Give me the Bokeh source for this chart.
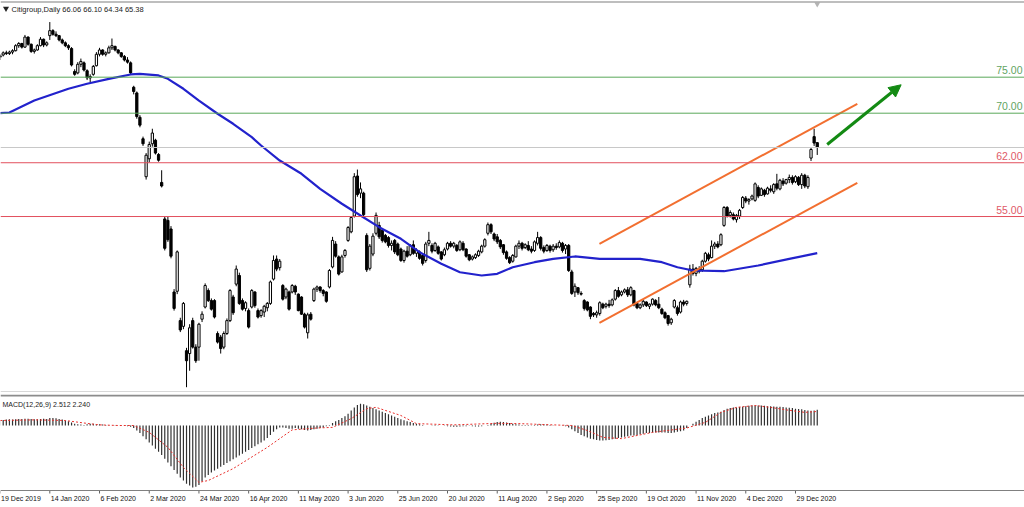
from bokeh.plotting import figure
from bokeh.layouts import column
from bokeh.models import Range1d, Span, Arrow, NormalHead, ColumnDataSource
from bokeh.core.properties import value
from bokeh.embed import file_html
from bokeh.resources import INLINE

SYMBOL = "Citigroup,Daily"

OPEN = [78.0, 78.3, 78.6, 78.5, 78.7, 78.9, 79.6, 79.9, 79.4, 80.8,
        79.8, 78.8, 79.0, 79.6, 80.5, 79.7, 81.0, 81.7, 81.2, 81.0,
        80.4, 80.0, 79.6, 79.2, 76.0, 75.8, 77.0, 77.2, 76.1, 75.1,
        75.6, 76.8, 78.4, 79.0, 78.4, 78.6, 79.3, 79.5, 79.0, 78.6,
        78.1, 77.6, 77.2, 73.8, 73.0, 69.6, 66.6, 61.3, 63.8, 65.9,
        66.4, 64.4, 60.5, 55.4, 55.2, 54.0, 45.2, 45.3, 41.2, 40.4,
        37.0, 36.6, 41.2, 37.5, 37.5, 41.4, 43.1, 45.4, 44.0, 44.0,
        39.4, 38.9, 37.5, 39.4, 41.2, 44.5, 46.3, 47.5, 44.0, 42.9,
        42.6, 43.1, 45.2, 42.6, 41.9, 42.4, 43.0, 43.6, 47.0, 49.8,
        48.6, 46.1, 44.5, 45.2, 45.2, 46.0, 44.9, 44.5, 42.1, 39.5,
        42.1, 44.0, 45.6, 45.9, 45.4, 45.2, 45.9, 48.7, 51.9, 50.1,
        48.0, 50.3, 52.4, 53.6, 55.8, 61.4, 59.0, 59.0, 53.1, 48.5,
        50.5, 53.4, 54.5, 53.8, 53.1, 52.8, 51.7, 52.4, 51.9, 51.2,
        49.6, 50.9, 50.4, 51.8, 50.6, 50.8, 50.3, 49.6, 52.0, 51.7,
        51.0, 51.5, 50.8, 50.4, 51.2, 52.0, 51.6, 51.7, 51.1, 52.0,
        51.2, 50.4, 49.8, 50.0, 50.3, 50.8, 51.6, 53.4, 54.6, 53.3,
        52.9, 52.4, 51.8, 50.8, 50.0, 49.5, 50.1, 51.6, 52.0, 51.4,
        51.7, 51.2, 51.0, 52.0, 52.8, 51.4, 51.0, 51.6, 51.1, 51.6,
        51.5, 52.0, 51.2, 51.7, 48.0, 45.2, 45.8, 45.0, 44.0, 43.8,
        43.1, 42.2, 42.0, 42.2, 43.5, 43.2, 43.5, 43.4, 44.2, 45.4,
        44.8, 45.2, 45.5, 44.8, 45.4, 43.6, 43.0, 43.4, 43.8, 43.2,
        43.5, 44.0, 43.5, 42.8, 42.3, 41.9, 40.9, 43.1, 43.0, 42.4,
        43.8, 43.6, 46.2, 48.4, 47.8, 48.4, 48.3, 49.5, 50.4, 50.0,
        51.6, 51.9, 51.8, 54.5, 57.0, 55.9, 56.0, 55.3, 55.8, 57.0,
        58.3, 57.9, 58.2, 58.0, 59.8, 58.7, 59.4, 58.9, 59.6, 59.2,
        60.3, 59.6, 60.7, 60.4, 60.9, 61.2, 60.6, 61.2, 60.2, 61.5,
        59.9, 63.9, 66.9, 66.06]

HIGH = [78.4, 78.8, 78.9, 78.9, 79.1, 79.8, 80.1, 80.0, 81.1, 80.9,
        79.9, 79.2, 79.8, 80.8, 80.6, 80.2, 82.9, 81.9, 81.6, 81.1,
        80.6, 80.2, 79.8, 79.4, 76.3, 77.3, 77.8, 77.4, 76.3, 75.6,
        76.9, 78.7, 79.3, 79.1, 78.8, 79.6, 80.6, 79.6, 79.1, 78.7,
        78.3, 78.0, 77.4, 74.0, 73.2, 69.9, 66.9, 64.6, 66.2, 68.0,
        66.6, 64.6, 62.2, 55.8, 55.7, 54.4, 45.6, 51.0, 41.6, 43.8,
        37.4, 40.7, 41.6, 37.9, 40.9, 42.5, 46.4, 45.7, 44.3, 44.2,
        39.7, 39.2, 39.7, 41.5, 45.6, 44.8, 48.9, 47.9, 44.3, 43.9,
        42.9, 45.6, 45.3, 42.9, 42.8, 43.4, 43.8, 46.8, 50.3, 50.3,
        49.8, 46.3, 45.8, 45.4, 46.3, 46.2, 45.0, 44.6, 42.3, 42.3,
        42.4, 45.8, 46.1, 46.0, 45.6, 45.3, 48.4, 52.9, 52.3, 50.3,
        50.4, 51.2, 54.4, 55.8, 61.8, 62.3, 60.5, 59.2, 53.4, 51.9,
        53.4, 56.3, 55.0, 54.0, 53.3, 53.0, 52.4, 52.6, 52.1, 51.4,
        51.1, 51.6, 51.9, 52.4, 51.3, 51.0, 50.5, 52.2, 53.6, 52.0,
        52.2, 51.7, 50.9, 51.4, 52.2, 52.3, 52.2, 51.9, 52.4, 52.3,
        51.3, 50.5, 50.3, 50.6, 51.1, 51.8, 52.7, 54.9, 54.8, 53.5,
        53.3, 52.6, 51.9, 51.0, 50.2, 50.5, 51.8, 52.4, 52.2, 52.0,
        52.3, 51.6, 52.4, 53.6, 53.0, 51.7, 51.9, 51.8, 51.9, 52.0,
        52.4, 52.2, 51.9, 51.9, 48.3, 46.4, 45.9, 45.3, 44.2, 43.9,
        43.2, 42.4, 42.6, 43.9, 43.7, 43.7, 44.1, 44.3, 45.6, 45.9,
        45.4, 45.7, 45.9, 46.0, 45.5, 43.8, 43.6, 44.1, 43.9, 43.6,
        44.3, 44.2, 44.5, 43.0, 42.5, 42.0, 41.6, 44.2, 43.3, 44.0,
        44.1, 44.0, 49.0, 49.1, 48.7, 48.8, 49.7, 50.8, 50.7, 52.4,
        52.2, 52.3, 53.4, 57.2, 57.2, 56.6, 56.3, 56.1, 56.8, 58.6,
        58.6, 58.3, 58.8, 60.5, 60.1, 59.8, 59.6, 59.9, 60.1, 60.4,
        61.7, 61.0, 61.1, 61.0, 61.6, 61.5, 61.5, 61.4, 61.8, 61.7,
        61.5, 65.4, 68.0, 66.10]

LOW = [77.6, 78.1, 78.3, 78.3, 78.4, 78.8, 79.3, 79.2, 79.3, 79.6,
       78.6, 78.5, 78.9, 79.5, 79.4, 79.5, 80.4, 81.0, 80.8, 80.2,
       79.8, 79.4, 79.0, 76.7, 75.4, 75.6, 76.6, 76.0, 74.8, 74.5,
       75.4, 76.7, 78.1, 78.2, 78.1, 78.5, 79.0, 78.8, 78.4, 77.9,
       77.4, 77.1, 75.5, 72.8, 69.4, 68.2, 65.6, 60.9, 63.3, 65.5,
       64.4, 63.4, 59.8, 51.0, 52.2, 49.9, 42.6, 44.9, 39.6, 40.0,
       31.9, 34.2, 37.3, 35.3, 35.6, 41.0, 42.9, 43.8, 42.6, 41.5,
       38.0, 36.6, 37.2, 39.2, 41.0, 42.0, 46.0, 43.4, 42.6, 42.5,
       40.1, 42.9, 43.0, 41.5, 41.6, 41.7, 42.5, 43.4, 46.8, 48.1,
       48.2, 44.0, 44.2, 42.6, 45.0, 44.8, 42.5, 42.0, 40.1, 38.7,
       41.2, 43.8, 45.2, 45.1, 44.6, 43.7, 45.7, 48.5, 50.0, 47.5,
       47.9, 50.0, 52.2, 53.4, 55.6, 58.5, 58.3, 55.7, 48.0, 48.2,
       50.2, 53.1, 52.6, 52.1, 52.0, 51.4, 51.0, 50.5, 50.2, 49.4,
       49.3, 50.0, 50.2, 50.4, 50.1, 49.7, 48.9, 49.3, 51.6, 50.6,
       50.8, 50.4, 49.6, 50.2, 51.0, 51.4, 51.3, 50.8, 50.9, 50.9,
       50.0, 49.5, 49.6, 49.8, 50.1, 50.6, 51.4, 53.1, 53.3, 52.3,
       51.9, 51.2, 50.4, 49.7, 49.1, 49.3, 50.0, 51.2, 51.0, 51.2,
       50.9, 50.6, 50.8, 51.7, 51.0, 50.6, 50.8, 50.7, 50.8, 51.1,
       51.3, 50.7, 50.5, 48.0, 44.8, 44.5, 44.8, 44.7, 42.6, 42.5,
       41.4, 41.7, 41.6, 41.9, 42.8, 42.9, 43.0, 43.2, 44.0, 44.4,
       44.6, 45.0, 44.5, 44.6, 43.2, 42.8, 42.8, 43.1, 43.1, 42.8,
       43.3, 43.2, 42.8, 42.0, 41.4, 40.5, 40.6, 42.9, 41.9, 42.2,
       43.2, 43.3, 45.8, 47.5, 47.4, 47.8, 48.0, 49.3, 49.5, 49.9,
       51.2, 51.3, 51.6, 54.3, 55.6, 55.6, 55.2, 54.9, 55.4, 56.8,
       57.6, 57.4, 58.0, 57.8, 58.3, 58.6, 58.5, 58.8, 59.1, 58.9,
       59.4, 59.4, 60.0, 60.2, 60.4, 60.2, 60.4, 60.0, 59.6, 59.7,
       59.6, 63.5, 65.6, 64.34]

CLOSE = [78.2, 78.6, 78.5, 78.7, 78.9, 79.6, 79.9, 79.4, 80.8, 79.8,
         78.8, 79.0, 79.6, 80.5, 79.7, 80.0, 81.7, 81.2, 81.0, 80.4,
         80.0, 79.6, 79.3, 76.9, 75.6, 77.0, 77.4, 76.2, 75.1, 75.3,
         76.7, 78.4, 79.0, 78.4, 78.6, 79.3, 79.6, 79.0, 78.6, 78.1,
         77.6, 77.3, 75.8, 73.2, 69.7, 68.5, 65.9, 64.3, 65.8, 67.4,
         64.6, 63.6, 60.0, 51.3, 52.5, 50.2, 42.9, 50.8, 39.9, 43.6,
         35.6, 40.2, 37.5, 35.6, 40.7, 42.1, 46.1, 44.0, 42.8, 41.7,
         38.2, 37.3, 39.4, 41.2, 45.4, 42.3, 48.4, 43.6, 42.8, 43.7,
         40.3, 45.4, 43.3, 41.7, 42.6, 43.2, 43.6, 46.6, 49.6, 48.4,
         49.5, 44.2, 45.6, 42.8, 46.1, 45.2, 42.6, 42.1, 40.3, 42.0,
         41.4, 45.6, 45.9, 45.4, 45.0, 43.9, 48.2, 52.4, 50.2, 47.7,
         50.1, 51.0, 54.2, 55.6, 61.3, 58.8, 59.6, 56.0, 48.3, 51.6,
         53.0, 55.9, 52.9, 52.4, 52.2, 51.7, 52.0, 50.8, 50.4, 49.6,
         50.9, 50.2, 51.7, 50.6, 51.0, 49.9, 49.2, 51.9, 52.4, 50.9,
         52.0, 50.6, 49.8, 51.1, 52.0, 51.6, 52.0, 51.0, 52.2, 51.1,
         50.2, 49.7, 50.1, 50.4, 50.9, 51.6, 52.5, 54.6, 53.6, 52.6,
         52.2, 51.5, 50.7, 49.9, 49.3, 50.3, 51.6, 52.0, 51.3, 51.8,
         51.1, 50.9, 52.2, 52.8, 51.3, 50.9, 51.7, 51.0, 51.6, 51.4,
         52.1, 51.0, 51.7, 48.2, 45.0, 46.0, 45.1, 44.9, 42.9, 42.7,
         41.8, 42.0, 42.3, 43.7, 43.0, 43.5, 43.3, 44.1, 45.4, 44.6,
         45.2, 45.5, 44.8, 45.8, 43.4, 43.0, 43.4, 43.9, 43.3, 43.5,
         44.2, 43.4, 43.0, 42.2, 41.6, 40.8, 41.4, 44.0, 42.2, 43.8,
         43.5, 43.9, 48.4, 47.8, 48.5, 48.1, 49.5, 50.6, 49.8, 51.6,
         51.9, 51.5, 53.2, 57.0, 55.8, 56.3, 55.4, 55.9, 56.6, 58.4,
         57.9, 58.1, 58.6, 60.3, 58.6, 59.6, 58.8, 59.7, 59.4, 60.2,
         59.7, 60.8, 60.3, 60.9, 61.2, 60.5, 61.3, 60.2, 61.5, 60.0,
         61.2, 65.1, 66.0, 65.38]

# moving average (blue line) read at these bars
MA_IDX = [0, 3, 11, 22, 28, 35, 42, 45, 51, 54,
          59, 64, 70, 75, 81, 84, 90, 97, 103, 110,
          116, 122, 129, 135, 142, 148, 155, 160, 165, 172,
          178, 185, 193, 206, 213, 218, 223, 233, 244, 254, 263]
MA_VAL = [70.17, 70.27, 71.94, 73.58, 74.28, 74.97, 75.58, 75.67, 75.44, 74.97,
          73.58, 71.94, 70.09, 68.69, 66.82, 65.66, 63.56, 61.71, 59.61, 57.52,
          55.88, 54.25, 52.63, 50.76, 49.14, 47.96, 47.5, 47.74, 48.66, 49.36,
          49.83, 50.16, 49.83, 49.83, 49.36, 48.66, 48.2, 48.1, 48.9, 49.83, 50.62]

# MACD(12,26,9) main values (histogram), one per bar
MACD = [0.85, 0.9, 0.95, 1.0, 0.95, 1.0, 1.05,
        1.05, 1.1, 1.1, 1.05, 1.0, 1.0, 1.05, 1.1, 1.05,
        1.2, 1.2, 1.15, 1.05, 0.95,
        0.8, 0.7, 0.5, 0.3, 0.2,
        0.15, 0.1, 0.2, 0.3, 0.3, 0.25,
        0.2, 0.15, 0.1, 0.05, 0.0, -0.05, 0.0, 0.05, 0.0, -0.1, -0.2, -0.4,
        -0.8, -1.2, -1.7, -2.2, -2.7, -3.2, -3.7, -4.2, -4.7, -5.3,
        -5.9, -6.5, -7.1, -7.7, -8.3, -8.8, -9.3, -9.6, -9.9, -9.8,
        -9.5, -8.9, -8.3, -7.9, -7.5, -7.2, -6.9, -6.6, -6.3, -6.0,
        -5.7, -5.4, -5.1, -4.8, -4.5, -4.2, -3.9, -3.6, -3.3, -3.0,
        -2.7, -2.4, -2.0, -1.5, -1.0,
        -0.6, -0.3, -0.3, -0.4, -0.5, -0.5, -0.4, -0.5, -0.6, -0.7,
        -0.8, -0.7, -0.6, -0.5, -0.4, -0.3, -0.1, 0.1,
        0.4, 0.7, 0.9, 1.2, 1.5, 1.9, 2.4, 2.9, 3.3, 3.5,
        3.4, 3.2, 3.0, 2.8, 2.6, 2.4, 2.2, 2.0, 1.8, 1.6,
        1.4, 1.2, 1.0, 0.85, 0.7, 0.55, 0.4, 0.3,
        0.2, 0.1, 0.0, 0.0, 0.05, 0.1, 0.05, 0.0, -0.05, -0.1,
        -0.15, -0.2, -0.2, -0.15, -0.1, -0.1, -0.05, -0.1, -0.15, -0.15,
        -0.1, 0.0, 0.1, 0.3,
        0.45, 0.55, 0.6, 0.55, 0.5, 0.4, 0.3, 0.2, 0.15, 0.1,
        0.1, 0.1, 0.05, 0.1, 0.15, 0.2, 0.2, 0.15, 0.1, 0.05,
        0.0, 0.0, -0.05, -0.1, -0.3,
        -0.6, -0.9, -1.2, -1.5, -1.7, -1.9, -2.1, -2.2, -2.3, -2.4,
        -2.4, -2.35, -2.3, -2.2, -2.1, -2.0,
        -1.9, -1.8, -1.7, -1.6, -1.6, -1.5, -1.4, -1.3, -1.2, -1.2,
        -1.1, -1.1, -1.1, -1.1, -1.1, -1.2, -1.2, -1.1, -1.0, -0.9, -0.8,
        -0.4, 0.0, 0.3, 0.6, 0.9, 1.2, 1.4, 1.6, 1.8, 2.0, 2.1, 2.2,
        2.5, 2.7, 2.8, 2.9, 2.9, 2.95, 3.0, 3.1, 3.15, 3.2, 3.2,
        3.2, 3.2, 3.15, 3.1, 3.1, 3.05, 3.0, 3.0, 2.95, 2.9,
        2.85, 2.8, 2.7, 2.65, 2.6, 2.5, 2.4, 2.35, 2.4, 2.512]

# signal line (red dotted) read at these bars
SIG_IDX = [0, 11, 21, 27, 32, 38, 43, 48, 54, 59,
           64, 67, 75, 86, 94, 102, 107, 113, 118, 121,
           129, 134, 146, 160, 167, 178, 184, 189, 194, 200,
           210, 221, 227, 232, 237, 243, 248, 253, 259, 263]
SIG_VAL = [0.8, 0.9, 0.8, 0.4, 0.1, 0.0, 0.0, -1.1, -3.5, -6.7,
           -9.1, -8.8, -6.9, -3.5, -0.7, -0.4, -0.3, 1.1, 2.7, 2.9,
           1.6, 0.3, 0.1, 0.35, 0.3, 0.1, 0.0, -0.8, -1.9, -2.1,
           -1.1, -0.4, 0.5, 2.1, 2.9, 3.2, 2.9, 2.5, 2.1, 2.24]

# horizontal levels drawn by the analyst
GREEN_LEVELS = [75.2, 70.17]
RED_LEVELS = [63.25, 55.74]
GREEN_LABELS = ["75.00", "70.00"]
RED_LABELS = ["62.00", "55.00"]

# rising channel (two parallel trend lines) and arrow
CH_X = [192.9, 275.9]
CH_UPPER = [51.93, 71.48]
CH_LOWER = [40.90, 60.45]
ARROW_X = [266.2, 290.0]
ARROW_Y = [65.80, 74.14]

TICK_IDX = [0, 16, 32, 48, 64, 80, 96, 112, 128, 144, 160, 176, 192, 208, 224, 240, 256]
TICK_LABELS = ["19 Dec 2019", "14 Jan 2020", "6 Feb 2020", "2 Mar 2020", "24 Mar 2020",
               "16 Apr 2020", "11 May 2020", "3 Jun 2020", "25 Jun 2020", "20 Jul 2020",
               "11 Aug 2020", "2 Sep 2020", "25 Sep 2020", "19 Oct 2020", "11 Nov 2020",
               "4 Dec 2020", "29 Dec 2020"]

# ---------------- layout ----------------
W = 1024
H1, H2 = 394, 113
BAR_PX = 3.107
X_START = 0.4 / BAR_PX
X_END = X_START + W / BAR_PX
PX_PER_PRICE = 7.16
P_TOP = 85.91
P_BOT = P_TOP - H1 / PX_PER_PRICE
MACD_ZERO_SY = 425.0
PX_PER_MACD = 6.25
FONT = value("Liberation Sans")


def x_at(sx):
    return X_START + sx / BAR_PX


def price_at(sy):
    return P_TOP - sy / PX_PER_PRICE


def macd_at(sy):
    return (MACD_ZERO_SY - sy) / PX_PER_MACD


n = len(CLOSE)
IDX = list(range(n))
xr = Range1d(X_START, X_END)

p1 = figure(width=W, height=H1, x_range=xr, y_range=Range1d(P_BOT, P_TOP),
            toolbar_location=None, output_backend="svg",
            x_axis_type=None, y_axis_type=None, min_border=0,
            outline_line_color=None, background_fill_color="white",
            border_fill_color="white")
p1.grid.visible = False

# frame top border and level lines
p1.add_layout(Span(location=price_at(1.5), dimension="width", line_color="#a8a8a8", line_width=1.5))
for lv in GREEN_LEVELS:
    p1.add_layout(Span(location=lv, dimension="width", line_color="#5aa85a", line_width=1))
for lv in RED_LEVELS:
    p1.add_layout(Span(location=lv, dimension="width", line_color="#e2505e", line_width=1))
p1.add_layout(Span(location=CLOSE[-1], dimension="width", line_color="#c8c8c8", line_width=1))
p1.add_layout(Span(location=price_at(391), dimension="width", line_color="#d8d8d8", line_width=1))

# candles
p1.segment(x0=IDX, y0=LOW, x1=IDX, y1=HIGH, line_color="black", line_width=1)
inc = [i for i in IDX if CLOSE[i] >= OPEN[i]]
dec = [i for i in IDX if CLOSE[i] < OPEN[i]]
src_inc = ColumnDataSource(dict(x=inc, o=[OPEN[i] for i in inc], c=[CLOSE[i] for i in inc]))
src_dec = ColumnDataSource(dict(x=dec, o=[OPEN[i] for i in dec], c=[CLOSE[i] for i in dec]))
p1.vbar(x="x", top="c", bottom="o", width=0.72, source=src_inc,
        fill_color="white", line_color="black", line_width=1)
p1.vbar(x="x", top="o", bottom="c", width=0.72, source=src_dec,
        fill_color="black", line_color="black", line_width=1)

# moving average
p1.line(MA_IDX, MA_VAL, line_color="#2222cc", line_width=2.2)

# channel
p1.line(CH_X, CH_UPPER, line_color="#f26f30", line_width=2)
p1.line(CH_X, CH_LOWER, line_color="#f26f30", line_width=2)

# arrow
p1.add_layout(Arrow(end=NormalHead(size=12, fill_color="#138a13", line_color="#138a13"),
                    x_start=ARROW_X[0], y_start=ARROW_Y[0], x_end=ARROW_X[1], y_end=ARROW_Y[1],
                    line_color="#138a13", line_width=3))

# level labels
lab_x = x_at(1022)
p1.text(x=[lab_x] * len(GREEN_LEVELS), y=[lv + 3 / PX_PER_PRICE for lv in GREEN_LEVELS],
        text=GREEN_LABELS, text_font=FONT, text_font_size="10.5px",
        text_align="right", text_baseline="bottom", text_color="#62a462")
p1.text(x=[lab_x] * len(RED_LEVELS), y=[lv + 3 / PX_PER_PRICE for lv in RED_LEVELS],
        text=RED_LABELS, text_font=FONT, text_font_size="10.5px",
        text_align="right", text_baseline="bottom", text_color="#e05a68")

# header and chart-shift marker
header = f"{SYMBOL}  {OPEN[-1]:.2f} {HIGH[-1]:.2f} {LOW[-1]:.2f} {CLOSE[-1]:.2f}"
p1.scatter(x=[x_at(5.5)], y=[price_at(8)], marker="inverted_triangle", size=6,
           fill_color="#222222", line_color=None)
p1.text(x=[x_at(11)], y=[price_at(8.5)], text=[header], text_font=FONT,
        text_font_size="7.5px", text_align="left", text_baseline="middle", text_color="#222222")
p1.scatter(x=[n - 1], y=[price_at(3.5)], marker="inverted_triangle", size=6,
           fill_color="#b4b4b4", line_color=None)

# ---------------- MACD pane ----------------
p2 = figure(width=W, height=H2, x_range=xr, y_range=Range1d(macd_at(394 + H2), macd_at(394)),
            toolbar_location=None, output_backend="svg",
            x_axis_type=None, y_axis_type=None, min_border=0,
            outline_line_color=None, background_fill_color="white",
            border_fill_color="white")
p2.grid.visible = False

p2.add_layout(Span(location=macd_at(395), dimension="width", line_color="#8c8c8c", line_width=2))
p2.vbar(x=IDX, top=MACD, bottom=0, width=0.38, fill_color="#303030", line_color=None)
p2.line(SIG_IDX, SIG_VAL, line_color="#e8302c", line_dash="2 2", line_width=1)

p2.text(x=[x_at(2)], y=[macd_at(404)], text=[f"MACD(12,26,9) {MACD[-1]:.3f} {SIG_VAL[-1]:.3f}"],
        text_font=FONT, text_font_size="7px", text_align="left", text_baseline="middle",
        text_color="#222222")

# time axis
p2.add_layout(Span(location=macd_at(490), dimension="width", line_color="#808080", line_width=1))
p2.segment(x0=TICK_IDX, y0=[macd_at(490)] * len(TICK_IDX), x1=TICK_IDX,
           y1=[macd_at(493)] * len(TICK_IDX), line_color="#606060", line_width=1)
lab_xs = [max(t + 1 / BAR_PX, x_at(0.5)) for t in TICK_IDX]
p2.text(x=lab_xs, y=[macd_at(497.5)] * len(TICK_IDX), text=TICK_LABELS, text_font=FONT,
        text_font_size="7px", text_align="left", text_baseline="middle", text_color="#111111")

layout = column(p1, p2, spacing=0)
open("out.html", "w").write(file_html(layout, INLINE))
